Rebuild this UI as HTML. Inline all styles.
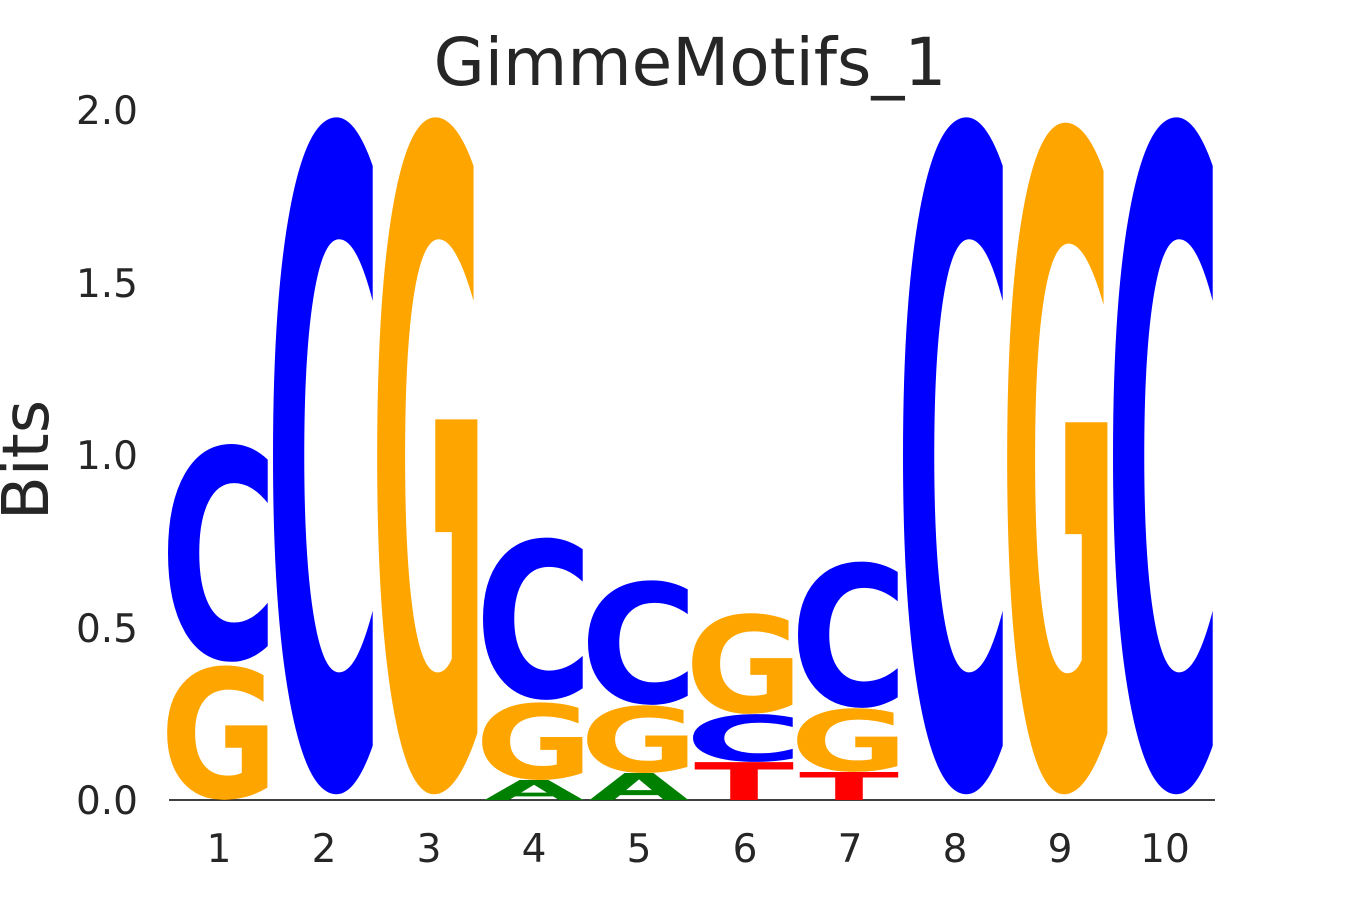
<!DOCTYPE html>
<html><head><meta charset="utf-8"><style>
html,body{margin:0;padding:0;background:#fff;overflow:hidden;width:1350px;height:900px;}
svg{display:block;}
svg text{font-family:"DejaVu Sans","Liberation Sans",sans-serif;}
.l{font-weight:bold;font-size:100px;}
.t{fill:#262626;font-size:39px;}
</style></head><body>
<svg width="1350" height="900" viewBox="0 0 1350 900" xmlns="http://www.w3.org/2000/svg">
<text x="690" y="85" text-anchor="middle" font-size="66" fill="#262626">GimmeMotifs_1</text>
<text transform="translate(48,460) rotate(-90)" text-anchor="middle" font-size="64" fill="#262626">Bits</text>
<g class="t" text-anchor="end">
<text x="138" y="814">0.0</text>
<text x="138" y="642">0.5</text>
<text x="138" y="469">1.0</text>
<text x="138" y="297">1.5</text>
<text x="138" y="124">2.0</text>
</g>
<g class="t" text-anchor="middle">
<text x="219" y="862">1</text><text x="324" y="862">2</text><text x="429" y="862">3</text>
<text x="534" y="862">4</text><text x="639" y="862">5</text><text x="745" y="862">6</text>
<text x="850" y="862">7</text><text x="955" y="862">8</text><text x="1060" y="862">9</text>
<text x="1165" y="862">10</text>
</g>
<line x1="169" y1="800" x2="1215" y2="800" stroke="#000" stroke-width="1.5"/>
<g class="l">
<text transform="translate(160,797.3) scale(1,1.776)" textLength="118" lengthAdjust="spacingAndGlyphs" fill="orange">G</text>
<text transform="translate(160,657.7) scale(1,2.88)" textLength="118" lengthAdjust="spacingAndGlyphs" fill="blue">C</text>
<text transform="translate(265,781.6) scale(1,8.95)" textLength="118" lengthAdjust="spacingAndGlyphs" fill="blue">C</text>
<text transform="translate(370,781.6) scale(1,8.95)" textLength="118" lengthAdjust="spacingAndGlyphs" fill="orange">G</text>
<text transform="translate(484,800) scale(1,0.274)" textLength="100" lengthAdjust="spacingAndGlyphs" fill="green">A</text>
<text transform="translate(475,778.5) scale(1,1.026)" textLength="118" lengthAdjust="spacingAndGlyphs" fill="orange">G</text>
<text transform="translate(475,696.8) scale(1,2.145)" textLength="118" lengthAdjust="spacingAndGlyphs" fill="blue">C</text>
<text transform="translate(589,800) scale(1,0.37)" textLength="100" lengthAdjust="spacingAndGlyphs" fill="green">A</text>
<text transform="translate(580,771.7) scale(1,0.895)" textLength="118" lengthAdjust="spacingAndGlyphs" fill="orange">G</text>
<text transform="translate(580,702.5) scale(1,1.645)" textLength="118" lengthAdjust="spacingAndGlyphs" fill="blue">C</text>
<text transform="translate(694,800) scale(1,0.52)" textLength="100" lengthAdjust="spacingAndGlyphs" fill="red">T</text>
<text transform="translate(685,761) scale(1,0.632)" textLength="118" lengthAdjust="spacingAndGlyphs" fill="blue">C</text>
<text transform="translate(685,712) scale(1,1.33)" textLength="118" lengthAdjust="spacingAndGlyphs" fill="orange">G</text>
<text transform="translate(799,800) scale(1,0.384)" textLength="100" lengthAdjust="spacingAndGlyphs" fill="red">T</text>
<text transform="translate(790,770.7) scale(1,0.842)" textLength="118" lengthAdjust="spacingAndGlyphs" fill="orange">G</text>
<text transform="translate(790,705.1) scale(1,1.934)" textLength="118" lengthAdjust="spacingAndGlyphs" fill="blue">C</text>
<text transform="translate(895,781.6) scale(1,8.95)" textLength="118" lengthAdjust="spacingAndGlyphs" fill="blue">C</text>
<text transform="translate(1000,781.7) scale(1,8.88)" textLength="118" lengthAdjust="spacingAndGlyphs" fill="orange">G</text>
<text transform="translate(1105,781.6) scale(1,8.95)" textLength="118" lengthAdjust="spacingAndGlyphs" fill="blue">C</text>
</g>
</svg>
</body></html>
